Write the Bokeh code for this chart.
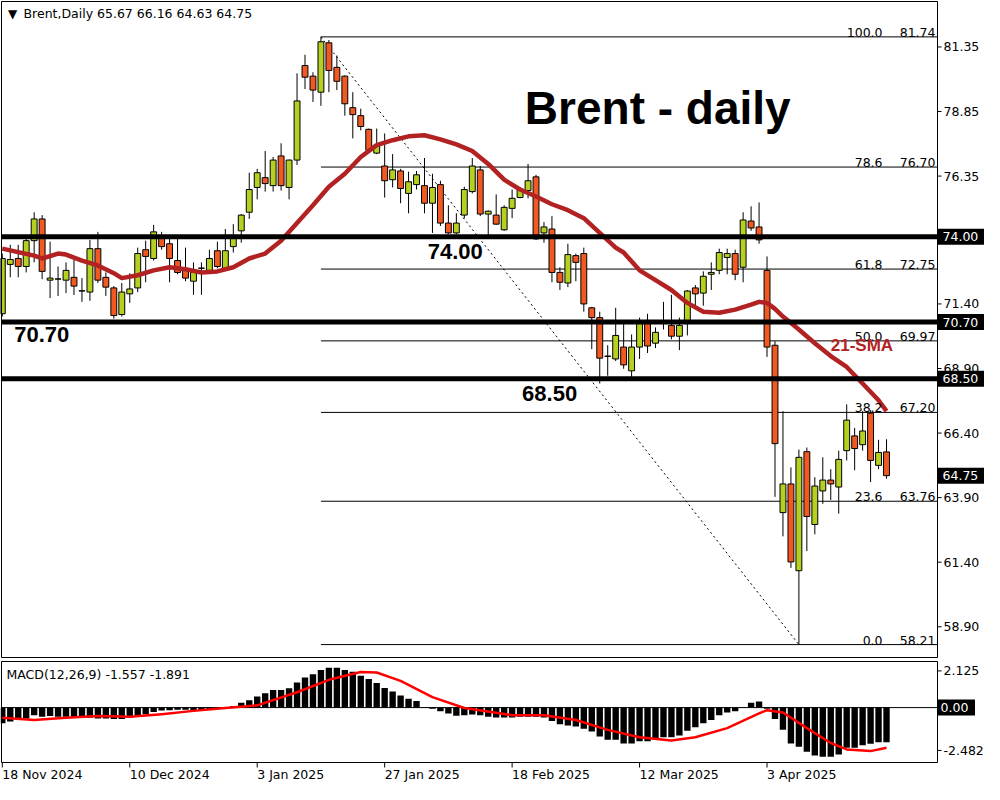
from bokeh.plotting import figure
from bokeh.models import Range1d, Label, ColumnDataSource
from bokeh.layouts import column
from bokeh.core.properties import value
from bokeh.embed import file_html
from bokeh.resources import INLINE

FONT = "DejaVu Sans"
BOLD_FONT = "Liberation Sans"
BULL = "#B6D022"
BEAR = "#F05A22"
SMA_COLOR = "#B22222"

# ---------------- data (daily bars, index 0 = 18 Nov 2024) ----------------
bars = list(range(112))
open_ = [71.02, 72.93, 73.16, 72.85, 73.85, 74.69, 72.32, 72.36, 72.32, 72.43,
         71.90, 71.86, 73.54, 72.43, 72.02, 70.99, 71.79, 72.02, 73.50, 73.16,
         73.96, 73.73, 73.08, 72.70, 72.28, 72.78, 72.70, 73.46, 72.78, 73.62,
         74.23, 74.95, 75.91, 76.29, 75.98, 77.13, 75.91, 76.97, 80.63, 80.22,
         79.60, 81.51, 80.56, 80.22, 79.00, 78.69, 78.16, 77.24, 76.74, 76.21,
         76.55, 75.68, 76.02, 75.98, 75.30, 76.02, 74.53, 74.15, 74.84, 75.75,
         76.59, 74.88, 74.84, 74.27, 75.10, 75.52, 75.79, 76.32, 74.15, 74.30,
         72.62, 72.21, 73.27, 73.35, 71.25, 70.87, 69.38, 69.27, 69.73, 68.81,
         69.73, 70.68, 69.88, 70.68, 70.57, 70.15, 70.64, 72.02, 71.82, 72.55,
         72.70, 73.20, 73.35, 72.82, 74.61, 74.38, 72.70, 69.80, 63.32, 64.43,
         61.07, 65.68, 62.86, 64.16, 64.58, 64.31, 65.72, 66.29, 65.95, 67.17,
         65.15, 65.67]
high = [73.35, 73.69, 73.69, 74.07, 74.95, 74.84, 73.81, 72.85, 73.01, 73.16,
        72.40, 73.88, 74.19, 72.62, 72.09, 72.21, 72.59, 73.58, 73.85, 74.46,
        74.19, 73.96, 73.96, 73.58, 73.01, 73.01, 73.50, 73.81, 74.30, 74.49,
        74.88, 76.48, 76.63, 77.32, 77.09, 77.62, 76.99, 80.33, 81.05, 80.37,
        81.74, 81.62, 81.02, 80.25, 79.60, 78.96, 78.19, 78.19, 78.00, 77.20,
        76.63, 76.52, 76.55, 77.05, 76.44, 76.17, 75.22, 74.91, 75.94, 77.05,
        76.74, 75.02, 75.64, 75.22, 75.83, 75.87, 76.82, 76.40, 74.57, 74.80,
        72.82, 73.73, 73.35, 73.58, 71.29, 71.10, 69.80, 71.25, 70.68, 70.22,
        70.87, 71.02, 70.49, 71.48, 71.75, 70.87, 71.94, 72.13, 72.66, 73.01,
        73.54, 73.54, 73.50, 74.95, 75.18, 75.33, 73.24, 69.96, 67.25, 65.07,
        65.76, 65.84, 64.69, 65.46, 65.00, 65.72, 67.51, 66.60, 67.25, 67.29,
        66.14, 66.16]
low = [70.91, 72.43, 72.43, 72.62, 73.01, 72.36, 71.63, 71.71, 71.82, 71.75,
       71.48, 71.52, 72.21, 71.71, 70.83, 70.91, 71.44, 71.86, 72.24, 73.08,
       73.50, 72.24, 72.55, 72.28, 71.75, 71.75, 72.62, 72.78, 72.70, 73.39,
       73.77, 74.69, 75.45, 75.75, 75.75, 75.79, 75.45, 76.78, 79.72, 79.22,
       79.07, 79.60, 79.68, 78.69, 77.81, 78.12, 77.28, 77.20, 75.52, 75.91,
       75.30, 74.91, 75.83, 74.91, 74.15, 74.42, 74.11, 74.10, 74.72, 75.68,
       74.80, 73.92, 74.46, 74.23, 74.72, 75.49, 75.49, 73.88, 73.77, 72.24,
       71.94, 72.05, 72.28, 71.10, 69.65, 68.32, 68.62, 69.19, 68.89, 68.43,
       69.27, 69.50, 69.69, 70.41, 70.03, 69.61, 70.18, 71.29, 71.33, 71.94,
       72.55, 72.55, 72.32, 72.24, 74.23, 73.73, 69.35, 63.93, 62.40, 61.18,
       58.21, 61.83, 62.48, 63.66, 63.81, 63.28, 65.34, 64.96, 65.72, 64.50,
       65.00, 64.63]
close = [73.16, 73.12, 72.85, 73.85, 74.69, 72.66, 72.40, 72.37, 72.70, 72.09,
         71.91, 73.54, 72.32, 72.05, 70.95, 71.86, 71.98, 73.35, 73.24, 74.19,
         73.62, 73.16, 72.62, 72.40, 72.62, 72.79, 73.16, 72.85, 73.46, 73.96,
         74.84, 75.83, 76.48, 76.06, 76.97, 75.98, 76.97, 79.26, 80.18, 79.68,
         81.55, 80.44, 80.02, 79.15, 78.73, 78.27, 77.35, 77.55, 76.17, 76.59,
         75.87, 76.13, 76.40, 75.30, 75.91, 74.53, 74.15, 74.53, 75.83, 76.74,
         74.88, 74.99, 74.49, 75.14, 75.49, 75.83, 76.17, 73.92, 74.38, 72.62,
         72.24, 73.31, 73.01, 71.40, 70.87, 69.30, 69.37, 70.18, 69.04, 69.73,
         70.68, 69.77, 70.30, 70.72, 70.15, 70.57, 71.90, 71.79, 72.47, 72.62,
         73.39, 73.35, 72.55, 74.65, 74.34, 73.88, 69.73, 65.99, 64.43, 61.41,
         65.46, 63.17, 64.35, 64.58, 64.43, 65.38, 66.90, 65.80, 66.48, 65.34,
         65.65, 64.75]

# 21-period SMA (bar index, value)
sma_idx = [0, 4, 5, 7, 8, 10, 12, 14, 15, 17, 19, 21, 23, 25, 27, 29, 31, 33, 35,
           37, 39, 41, 43, 45, 47, 49, 51, 53, 55, 57, 59, 61, 63, 65, 67, 69, 71,
           73, 75, 77, 78, 80, 82, 84, 86, 88, 90, 92, 94, 95, 96, 97, 98, 100,
           102, 104, 106, 108, 110, 111]
sma_val = [73.54, 73.27, 73.16, 73.35, 73.31, 73.08, 72.89, 72.59, 72.40, 72.51,
           72.70, 72.82, 72.74, 72.62, 72.66, 72.82, 73.16, 73.35, 73.85, 74.53,
           75.22, 75.94, 76.44, 77.09, 77.55, 77.74, 77.89, 77.93, 77.77, 77.58,
           77.32, 76.82, 76.21, 75.83, 75.56, 75.26, 75.03, 74.72, 74.15, 73.58,
           73.39, 72.70, 72.32, 71.94, 71.44, 71.10, 71.06, 71.18, 71.37, 71.48,
           71.44, 71.21, 70.91, 70.41, 69.88, 69.38, 68.96, 68.32, 67.67, 67.25]

# MACD histogram (one per bar) and signal line samples
macd_hist = [-0.91, -0.81, -0.66, -0.63, -0.44, -0.53, -0.49, -0.53, -0.53, -0.57,
             -0.59, -0.59, -0.63, -0.63, -0.66, -0.66, -0.59, -0.53, -0.38, -0.25,
             -0.17, -0.15, -0.13, -0.13, -0.17, -0.15, -0.09, -0.06, -0.02, 0.09,
             0.28, 0.42, 0.64, 0.83, 1.02, 1.02, 1.12, 1.46, 1.74, 1.93,
             2.18, 2.31, 2.31, 2.18, 2.08, 1.84, 1.65, 1.42, 1.14, 0.93,
             0.70, 0.51, 0.38, 0.04, -0.06, -0.21, -0.34, -0.47, -0.44, -0.40,
             -0.44, -0.53, -0.57, -0.57, -0.57, -0.53, -0.53, -0.53, -0.57, -0.78,
             -0.97, -1.04, -1.10, -1.23, -1.38, -1.67, -1.86, -1.86, -2.08, -2.08,
             -1.95, -1.95, -1.76, -1.72, -1.72, -1.61, -1.34, -1.14, -0.91, -0.72,
             -0.44, -0.28, -0.21, -0.02, 0.28, 0.36, -0.06, -0.66, -1.29, -2.08,
             -2.27, -2.56, -2.77, -2.84, -2.84, -2.71, -2.33, -2.33, -2.18, -2.10,
             -2.01, -2.01]
sig_idx = [0, 4, 8, 12, 16, 20, 24, 28, 32, 37, 41, 45, 47, 50, 54, 58, 62, 64,
           68, 72, 76, 80, 84, 87, 91, 95, 96, 98, 101, 104, 106, 109, 111]
sig_val = [-0.59, -0.72, -0.59, -0.49, -0.53, -0.38, -0.19, -0.02, 0.13, 0.89,
           1.61, 2.06, 2.03, 1.55, 0.61, -0.02, -0.30, -0.44, -0.44, -0.72,
           -1.29, -1.72, -1.91, -1.72, -1.19, -0.34, -0.15, -0.28, -1.19, -2.05,
           -2.42, -2.52, -2.33]

# key levels, Fibonacci retracement, axis ticks
key_levels = [74.00, 70.70, 68.50]
key_level_texts = ["74.00", "70.70", "68.50"]
fib_ratios = ["100.0", "78.6", "61.8", "50.0", "38.2", "23.6", "0.0"]
fib_prices = [81.74, 76.70, 72.75, 69.97, 67.20, 63.76, 58.21]
fib_high_idx, fib_low_idx = 40, 100
price_ticks = [58.90, 61.40, 63.90, 66.40, 68.90, 71.40, 76.35, 78.85, 81.35]
macd_ticks = [2.125, -2.482]
macd_tick_labels = ["2.125", "-2.482"]
date_idx = [0, 16, 32, 48, 64, 80, 96]
date_labels = ["18 Nov 2024", "10 Dec 2024", "3 Jan 2025", "27 Jan 2025",
               "18 Feb 2025", "12 Mar 2025", "3 Apr 2025"]
macd_params = "MACD(12,26,9)"
macd_last, signal_last = -1.557, -1.891

# ---------------- layout constants ----------------
W = 984
PLOT_W = 936                 # width of the chart panels in px
X0 = -0.1
NBARS_VIEW = 117.5
X1 = X0 + NBARS_VIEW         # right edge of the chart panels (data)
PX = NBARS_VIEW / PLOT_W     # data units per px along x
XR = Range1d(X0 - PX, X0 - PX + W * PX)

PY0, PY1 = 57.71, 83.11      # price panel value range
H1, PAN1_H, TOP1 = 660, 656, 1
PPY = (PY1 - PY0) / PAN1_H
YR1 = Range1d(PY0 - (H1 - PAN1_H - TOP1) * PPY, PY1 + TOP1 * PPY)

MY0, MY1 = -3.18, 2.67       # MACD panel value range
H2, PAN2_H, TOP2 = 124, 101, 1
MPY = (MY1 - MY0) / PAN2_H
YR2 = Range1d(MY0 - (H2 - PAN2_H - TOP2) * MPY, MY1 + TOP2 * MPY)

TS = "12.5px"                # small text size


def base_fig(h, yr):
    f = figure(width=W, height=h, x_range=XR, y_range=yr, x_axis_location=None,
               y_axis_location=None, toolbar_location=None, output_backend="svg",
               min_border=0)
    f.grid.visible = False
    f.outline_line_color = None
    f.background_fill_color = "white"
    f.border_fill_color = "white"
    return f


def txt(f, x, y, t, size=TS, align="left", baseline="middle", color="black",
        font=FONT, style="normal"):
    f.text(x=x, y=y, text=t, text_align=align, text_baseline=baseline,
           text_font=value(font), text_font_size=size, text_color=color,
           text_font_style=style)


# ---------------- price panel ----------------
src = ColumnDataSource(dict(
    x=bars, h=high, l=low,
    top=[max(o, c) for o, c in zip(open_, close)],
    bot=[min(o, c) for o, c in zip(open_, close)],
    col=[BULL if c >= o else BEAR for o, c in zip(open_, close)],
))

p1 = base_fig(H1, YR1)

# fib lines + diagonal
n_fib = len(fib_prices)
p1.segment(x0=[fib_high_idx] * n_fib, x1=[X1] * n_fib, y0=fib_prices, y1=fib_prices,
           line_color="black", line_width=1)
p1.line(x=[fib_high_idx, fib_low_idx], y=[fib_prices[0], fib_prices[-1]],
        line_color="black", line_width=1, line_dash="2 3")

# candles
p1.segment(x0="x", y0="l", x1="x", y1="h", source=src, line_color="black", line_width=1)
p1.vbar(x="x", top="top", bottom="bot", width=0.74, source=src,
        fill_color="col", line_color="black", line_width=1)

# SMA
p1.line(sma_idx, sma_val, line_color=SMA_COLOR, line_width=4.5, line_join="round")

# key horizontal levels
nk = len(key_levels)
p1.segment(x0=[X0] * nk, x1=[X1] * nk, y0=key_levels, y1=key_levels,
           line_color="black", line_width=5)

# panel border
p1.quad(left=[X0], right=[X1], bottom=[PY0], top=[PY1], fill_color=None,
        line_color="black", line_width=1)

# fib labels
txt(p1, [110.5] * n_fib, fib_prices, fib_ratios, align="right", baseline="bottom")
txt(p1, [X1 - 2 * PX] * n_fib, fib_prices, [f"{v:.2f}" for v in fib_prices],
    align="right", baseline="bottom")

# right price axis
nt = len(price_ticks)
p1.segment(x0=[X1] * nt, x1=[X1 + 4 * PX] * nt, y0=price_ticks, y1=price_ticks,
           line_color="black", line_width=1)
txt(p1, [X1 + 6 * PX] * nt, price_ticks, [f"{t:.2f}" for t in price_ticks])

box_y = key_levels + [close[-1]]
box_t = key_level_texts + [f"{close[-1]:.2f}"]
p1.rect(x=[X1 + 24 * PX] * len(box_y), y=box_y, width=47, height=16, width_units="screen",
        height_units="screen", fill_color="black", line_color=None)
txt(p1, [X1 + 5 * PX] * len(box_y), box_y, box_t, color="white")

# header and annotations
p1.add_layout(Label(x=X0 + 11 * PX, y=PY1 - 12 * PPY, text="\u25BC", text_align="center",
                    text_baseline="middle", text_font=FONT, text_font_size="12px",
                    text_color="black"))
p1.add_layout(Label(x=X0 + 22 * PX, y=PY1 - 12 * PPY,
                    text=f"Brent,Daily  {open_[-1]:.2f} {high[-1]:.2f} {low[-1]:.2f} {close[-1]:.2f}",
                    text_baseline="middle", text_font=FONT, text_font_size="12.5px",
                    text_color="black"))
p1.add_layout(Label(x=65.6, y=79.00, text="Brent - daily", text_baseline="alphabetic",
                    text_font=BOLD_FONT, text_font_style="bold", text_font_size="46px",
                    text_color="black"))
for (tx, x, y) in (("74.00", 53.4, 73.43), ("70.70", 1.5, 70.22), ("68.50", 65.25, 67.93)):
    p1.add_layout(Label(x=x, y=y, text=tx, text_baseline="middle", text_font=BOLD_FONT,
                        text_font_style="bold", text_font_size="22px", text_color="black"))
p1.add_layout(Label(x=104, y=69.80, text="21-SMA", text_baseline="middle", text_font=BOLD_FONT,
                    text_font_style="bold", text_font_size="17px", text_color=SMA_COLOR))

# ---------------- MACD panel ----------------
p2 = base_fig(H2, YR2)
p2.vbar(x=bars, top=macd_hist, bottom=0, width=0.8, fill_color="black", line_color=None)
p2.segment(x0=[X0], x1=[X1], y0=[0], y1=[0], line_color="black", line_width=1)
p2.line(sig_idx, sig_val, line_color="#FF0000", line_width=2.5, line_join="round")
p2.quad(left=[X0], right=[X1], bottom=[MY0], top=[MY1], fill_color=None,
        line_color="black", line_width=1)

nm = len(macd_ticks)
p2.segment(x0=[X1] * nm, x1=[X1 + 4 * PX] * nm, y0=macd_ticks, y1=macd_ticks,
           line_color="black", line_width=1)
txt(p2, [X1 + 6 * PX] * nm, macd_ticks, macd_tick_labels)
p2.rect(x=[X1 + 19 * PX], y=[0], width=37, height=16, width_units="screen",
        height_units="screen", fill_color="black", line_color=None)
txt(p2, [X1 + 3 * PX], [0], ["0.00"], color="white")

# date axis
nd = len(date_idx)
p2.segment(x0=date_idx, x1=date_idx, y0=[MY0] * nd, y1=[MY0 - 5 * MPY] * nd,
           line_color="black", line_width=1)
txt(p2, date_idx, [MY0 - 12 * MPY] * nd, date_labels)

p2.add_layout(Label(x=X0 + 5 * PX, y=MY1 - 13 * MPY,
                    text=f"{macd_params} {macd_last:.3f} {signal_last:.3f}",
                    text_baseline="middle", text_font=FONT, text_font_size="12.5px",
                    text_color="black"))

layout = column(p1, p2, spacing=0)
open("out.html", "w").write(file_html(layout, INLINE))
